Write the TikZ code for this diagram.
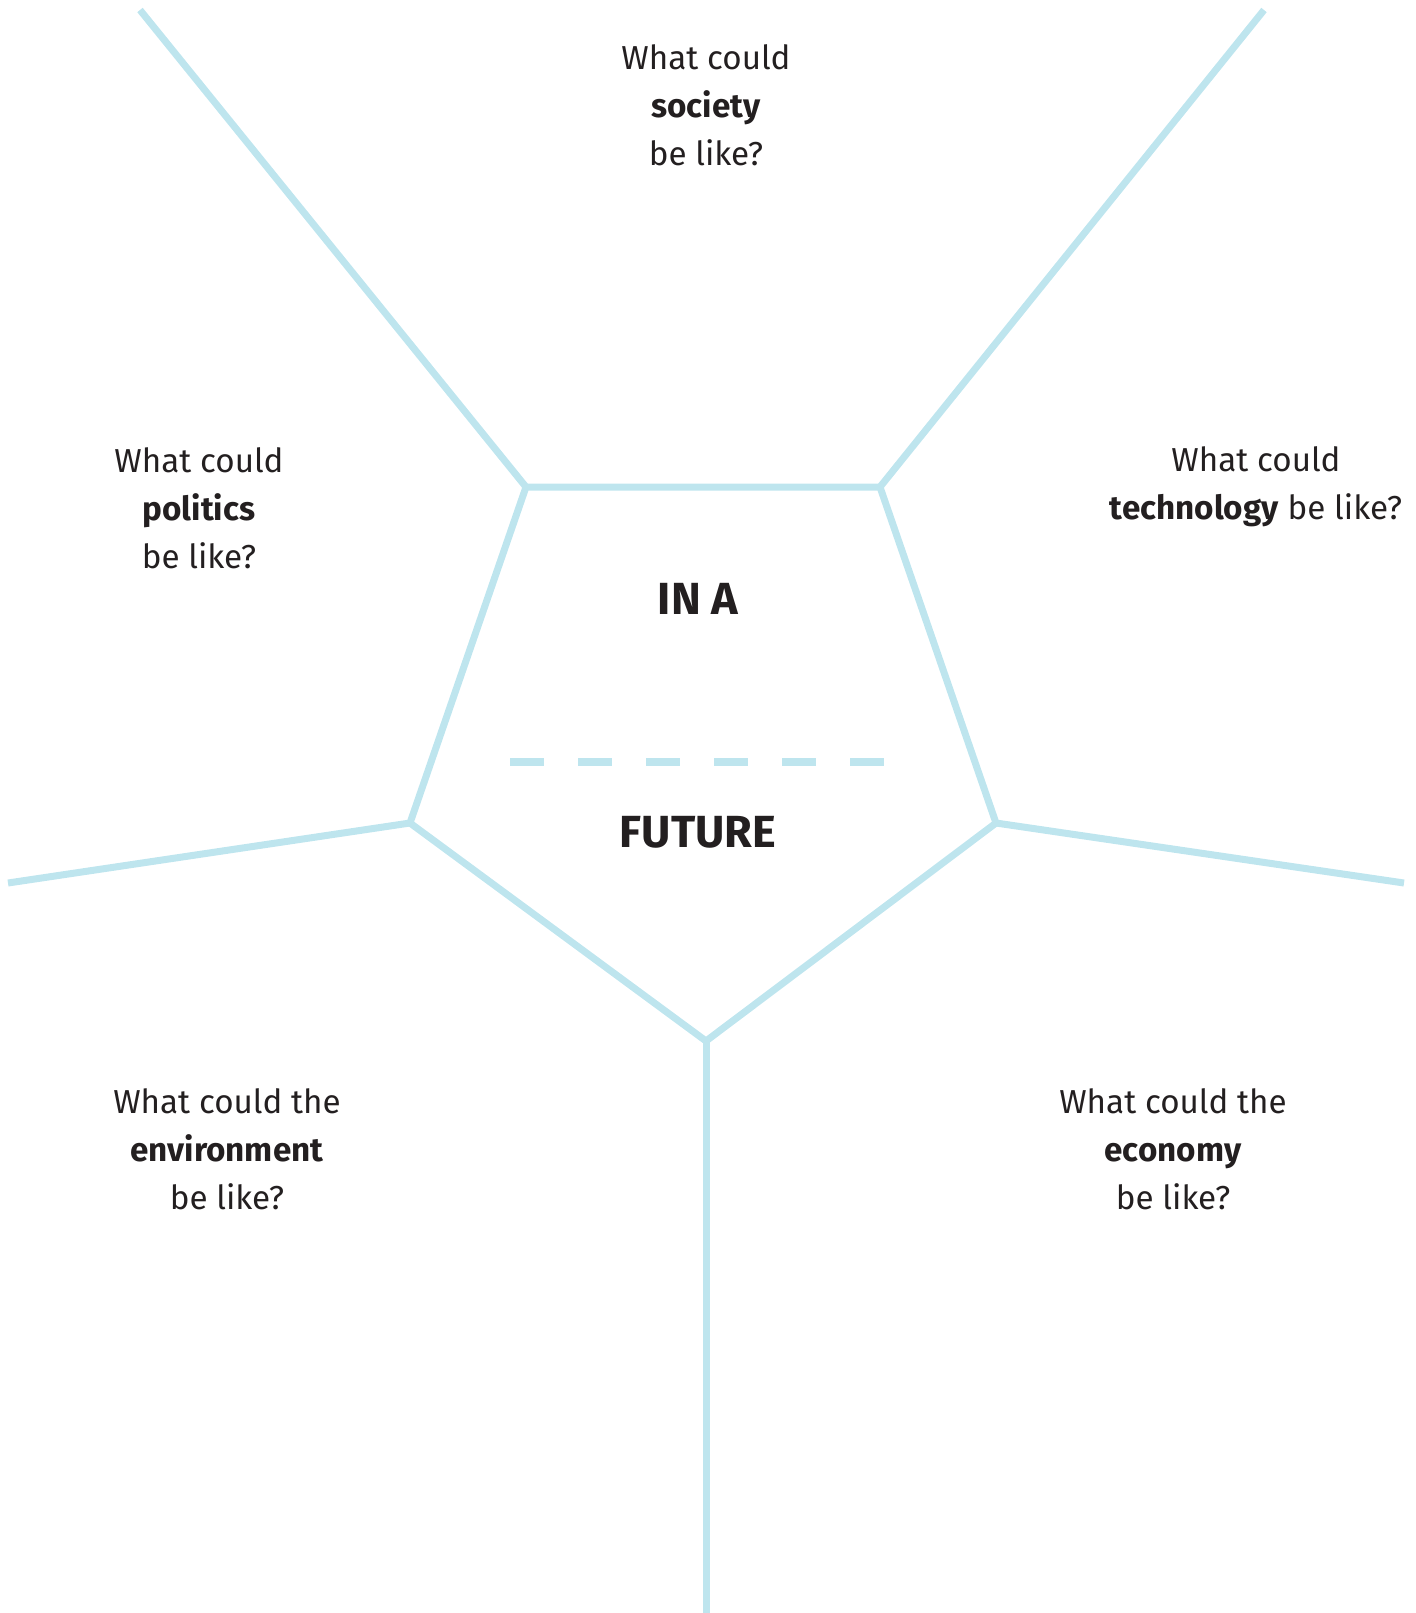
\documentclass[tikz,border=0pt]{standalone}
\usepackage{fontspec}
\setmainfont{Fira Sans}
\definecolor{lineblue}{RGB}{190,229,238}
\definecolor{ink}{RGB}{35,31,32}
\begin{document}
\begin{tikzpicture}[x=0.5pt,y=-0.5pt,
  edge/.style={draw=lineblue,line width=3.5pt,line join=miter},
  question/.style={align=center,text=ink,font=\fontsize{16.6}{24}\selectfont,inner sep=0pt},
  title/.style={text=ink,font=\fontsize{22.5}{24}\selectfont\bfseries,inner sep=0pt}]
\useasboundingbox (0,0) rectangle (1416,1613);
% pentagon vertices
\coordinate (tl) at (526,487);
\coordinate (tr) at (880,487);
\coordinate (r) at (996,823);
\coordinate (b) at (706,1041);
\coordinate (l) at (410,823);
% outer ends
\coordinate (tle) at (140,10);
\coordinate (tre) at (1264,10);
\coordinate (re) at (1404,883);
\coordinate (le) at (8,883);
\coordinate (be) at (706,1613);
\draw[edge] (tl) -- (tr) -- (r) -- (b) -- (l) -- cycle;
\draw[edge] (tl) -- (tle);
\draw[edge] (tr) -- (tre);
\draw[edge] (r) -- (re);
\draw[edge] (l) -- (le);
\draw[edge] (b) -- (be);
% dashed divider
\coordinate (d1) at (510,762);
\coordinate (d2) at (886,762);
\draw[draw=lineblue,line width=3.7pt,dash pattern=on 17pt off 17pt] (d1) -- (d2);
% titles
\node[title] (ina) at (698,599) {IN A};
\node[title] (future) at (698,832) {FUTURE};
% questions
\node[question] (society) at (706,105) {What could\\\textbf{society}\\be like?};
\node[question] (politics) at (199,508) {What could\\\textbf{politics}\\be like?};
\node[question] (technology) at (1256,487) {What could\\\textbf{technology} be like?};
\node[question] (environment) at (227,1149) {What could the\\\textbf{environment}\\be like?};
\node[question] (economy) at (1173,1149) {What could the\\\textbf{economy}\\be like?};
\end{tikzpicture}
\end{document}
